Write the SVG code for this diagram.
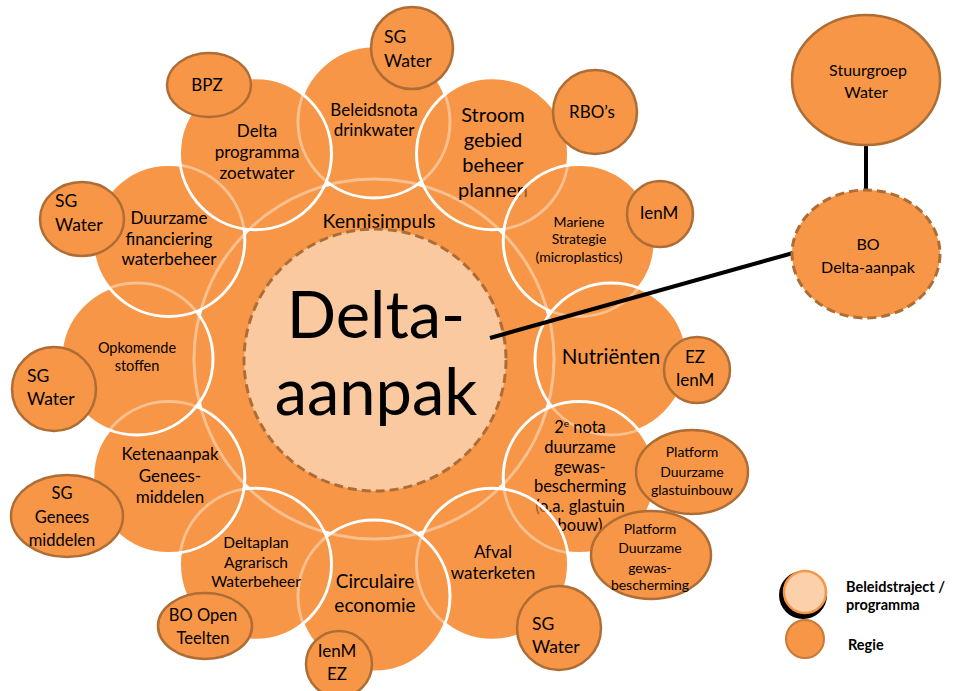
<svg xmlns="http://www.w3.org/2000/svg" width="956" height="691" viewBox="0 0 956 691">
<style>
text{font-family:Lato,"Liberation Sans",sans-serif;fill:#000;}
.c{text-anchor:middle;}
.base{fill:#F79646;}
.ring{fill:#F79646;fill-opacity:0.6;stroke:#fff;stroke-width:3;}
.big{fill:#F79646;stroke:#fff;stroke-width:3;}
.sat{fill:#F79646;stroke:#AE6D35;stroke-width:2.5;}
.dash{stroke:#AE6D35;stroke-width:3;stroke-dasharray:9 5;}
.conn{stroke:#000;stroke-width:4;fill:none;}
</style>
<rect width="956" height="691" fill="#fff"/>
<g id="base">
<circle class="base" cx="374" cy="359" r="180"/>
<circle class="base" cx="374" cy="122" r="76"/>
<circle class="base" cx="492.5" cy="153.8" r="76"/>
<circle class="base" cx="579.2" cy="240.5" r="76"/>
<circle class="base" cx="611" cy="359" r="76"/>
<circle class="base" cx="579.2" cy="477.5" r="76"/>
<circle class="base" cx="492.5" cy="564.2" r="76"/>
<circle class="base" cx="374" cy="596" r="76"/>
<circle class="base" cx="255.5" cy="564.2" r="76"/>
<circle class="base" cx="168.8" cy="477.5" r="76"/>
<circle class="base" cx="137" cy="359" r="76"/>
<circle class="base" cx="168.8" cy="240.5" r="76"/>
<circle class="base" cx="255.5" cy="153.8" r="76"/>
</g>
<g id="kennisimpuls">
<circle class="big" cx="374" cy="359" r="180"/>
<text class="c" x="379" y="228" font-size="19.5">Kennisimpuls</text>
</g>
<g id="beleidsnota">
<circle class="ring" cx="374" cy="122" r="76"/>
<text class="c" font-size="17"><tspan x="374" y="116">Beleidsnota</tspan><tspan x="374" y="136">drinkwater</tspan></text>
</g>
<g id="stroomgebied">
<circle class="ring" cx="492.5" cy="153.8" r="76"/>
<text class="c" font-size="20"><tspan x="493" y="122">Stroom</tspan><tspan x="493" y="147">gebied</tspan><tspan x="493" y="172">beheer</tspan><tspan x="493" y="197">plannen</tspan></text>
</g>
<g id="mariene">
<circle class="ring" cx="579.2" cy="240.5" r="76"/>
<text class="c" font-size="14"><tspan x="579" y="227">Mariene</tspan><tspan x="579" y="244">Strategie</tspan><tspan x="579" y="262">(microplastics)</tspan></text>
</g>
<g id="nutrienten">
<circle class="ring" cx="611" cy="359" r="76"/>
<text class="c" x="611" y="364" font-size="20.5">Nutriënten</text>
</g>
<g id="tweedenota">
<circle class="ring" cx="579.2" cy="477.5" r="76"/>
<text class="c" font-size="16.5"><tspan x="580" y="433">2<tspan font-size="10" dy="-6">e</tspan><tspan dy="6"> nota</tspan></tspan><tspan x="580" y="453">duurzame</tspan><tspan x="580" y="473">gewas-</tspan><tspan x="580" y="492">bescherming</tspan><tspan x="580" y="512">(o.a. glastuin</tspan><tspan x="580" y="531">bouw)</tspan></text>
</g>
<g id="afval">
<circle class="ring" cx="492.5" cy="564.2" r="76"/>
<text class="c" font-size="17"><tspan x="493" y="558">Afval</tspan><tspan x="493" y="579">waterketen</tspan></text>
</g>
<g id="circulaire">
<circle class="ring" cx="374" cy="596" r="76"/>
<text class="c" font-size="19"><tspan x="375" y="588">Circulaire</tspan><tspan x="375" y="612">economie</tspan></text>
</g>
<g id="deltaplan">
<circle class="ring" cx="255.5" cy="564.2" r="76"/>
<text class="c" font-size="15.5"><tspan x="256" y="548">Deltaplan</tspan><tspan x="256" y="568">Agrarisch</tspan><tspan x="256" y="587">Waterbeheer</tspan></text>
</g>
<g id="ketenaanpak">
<circle class="ring" cx="168.8" cy="477.5" r="76"/>
<text class="c" font-size="17"><tspan x="170" y="460">Ketenaanpak</tspan><tspan x="170" y="482">Genees-</tspan><tspan x="170" y="503">middelen</tspan></text>
</g>
<g id="opkomende">
<circle class="ring" cx="137" cy="359" r="76"/>
<text class="c" font-size="14.5"><tspan x="137" y="353">Opkomende</tspan><tspan x="137" y="371">stoffen</tspan></text>
</g>
<g id="duurzamefin">
<circle class="ring" cx="168.8" cy="240.5" r="76"/>
<text class="c" font-size="17"><tspan x="169" y="224">Duurzame</tspan><tspan x="169" y="245">financiering</tspan><tspan x="169" y="265">waterbeheer</tspan></text>
</g>
<g id="deltaprogramma">
<circle class="ring" cx="255.5" cy="153.8" r="76"/>
<text class="c" font-size="17"><tspan x="257" y="137">Delta</tspan><tspan x="257" y="158">programma</tspan><tspan x="257" y="179">zoetwater</tspan></text>
</g>
<g id="delta-aanpak">
<circle class="dash" cx="375" cy="360" r="131" fill="#FBC9A0"/>
<text class="c" font-size="65"><tspan x="376" y="338">Delta-</tspan><tspan x="376" y="415">aanpak</tspan></text>
</g>
<g id="sat-sgwater-top">
<circle class="sat" cx="412" cy="48" r="41"/>
<text font-size="17.5"><tspan x="384" y="43">SG</tspan><tspan x="384" y="67">Water</tspan></text>
</g>
<g id="sat-bpz">
<ellipse class="sat" cx="209" cy="85" rx="42" ry="32"/>
<text class="c" x="207" y="91" font-size="17">BPZ</text>
</g>
<g id="sat-rbo">
<circle class="sat" cx="595" cy="112" r="42"/>
<text class="c" x="592" y="118" font-size="17">RBO’s</text>
</g>
<g id="sat-ienm-mariene">
<circle class="sat" cx="660" cy="214" r="33"/>
<text class="c" x="659" y="219" font-size="17">IenM</text>
</g>
<g id="sat-ez-ienm">
<circle class="sat" cx="697" cy="370" r="33"/>
<text class="c" font-size="17"><tspan x="695" y="363">EZ</tspan><tspan x="695" y="386">IenM</tspan></text>
</g>
<g id="sat-platform-glas">
<ellipse class="sat" cx="692" cy="472" rx="56" ry="42"/>
<text class="c" font-size="14"><tspan x="692" y="457">Platform</tspan><tspan x="692" y="477">Duurzame</tspan><tspan x="692" y="495">glastuinbouw</tspan></text>
</g>
<g id="sat-platform-gewas">
<ellipse class="sat" cx="651" cy="555" rx="60" ry="44"/>
<text class="c" font-size="14"><tspan x="650" y="534">Platform</tspan><tspan x="650" y="553">Duurzame</tspan><tspan x="650" y="573">gewas-</tspan><tspan x="650" y="590">bescherming</tspan></text>
</g>
<g id="sat-sgwater-afval">
<circle class="sat" cx="559" cy="628" r="42"/>
<text font-size="17.5"><tspan x="532" y="630">SG</tspan><tspan x="532" y="653">Water</tspan></text>
</g>
<g id="sat-ienm-ez">
<circle class="sat" cx="339" cy="664" r="33"/>
<text class="c" font-size="17"><tspan x="337" y="657">IenM</tspan><tspan x="337" y="680">EZ</tspan></text>
</g>
<g id="sat-bo-open">
<ellipse class="sat" cx="205" cy="626" rx="47" ry="33"/>
<text class="c" font-size="16.5"><tspan x="203" y="621">BO Open</tspan><tspan x="203" y="644">Teelten</tspan></text>
</g>
<g id="sat-sg-genees">
<ellipse class="sat" cx="67" cy="516" rx="56" ry="41"/>
<text class="c" font-size="16.5"><tspan x="62" y="499">SG</tspan><tspan x="62" y="523">Genees</tspan><tspan x="62" y="546">middelen</tspan></text>
</g>
<g id="sat-sgwater-opk">
<circle class="sat" cx="54" cy="389" r="42"/>
<text font-size="17.5"><tspan x="27" y="382">SG</tspan><tspan x="27" y="405">Water</tspan></text>
</g>
<g id="sat-sgwater-duurz">
<ellipse class="sat" cx="82" cy="219" rx="42" ry="37"/>
<text font-size="17.5"><tspan x="55" y="207">SG</tspan><tspan x="55" y="231">Water</tspan></text>
</g>
<g id="connectors">
<line class="conn" x1="490" y1="338" x2="793" y2="253"/>
<line class="conn" x1="866" y1="144" x2="866" y2="191"/>
</g>
<g id="stuurgroep">
<ellipse class="sat" cx="866" cy="80" rx="74" ry="65"/>
<text class="c" font-size="16"><tspan x="868" y="76">Stuurgroep</tspan><tspan x="866" y="98">Water</tspan></text>
</g>
<g id="bo-delta">
<ellipse class="dash" cx="866" cy="254" rx="74" ry="64" fill="#F79646"/>
<text class="c" font-size="16"><tspan x="868" y="250">BO</tspan><tspan x="868" y="273">Delta-aanpak</tspan></text>
</g>
<g id="legend">
<circle cx="803" cy="595" r="24" fill="#000"/>
<circle cx="805" cy="592" r="21" fill="#FBD0AA" stroke="#F79646" stroke-width="2.5"/>
<circle cx="805" cy="639" r="19" fill="#F79646" stroke="#C77A3A" stroke-width="2"/>
<text font-size="14.5" font-weight="bold"><tspan x="846" y="592">Beleidstraject /</tspan><tspan x="846" y="610">programma</tspan></text>
<text x="848" y="650" font-size="14.5" font-weight="bold">Regie</text>
</g>
</svg>
